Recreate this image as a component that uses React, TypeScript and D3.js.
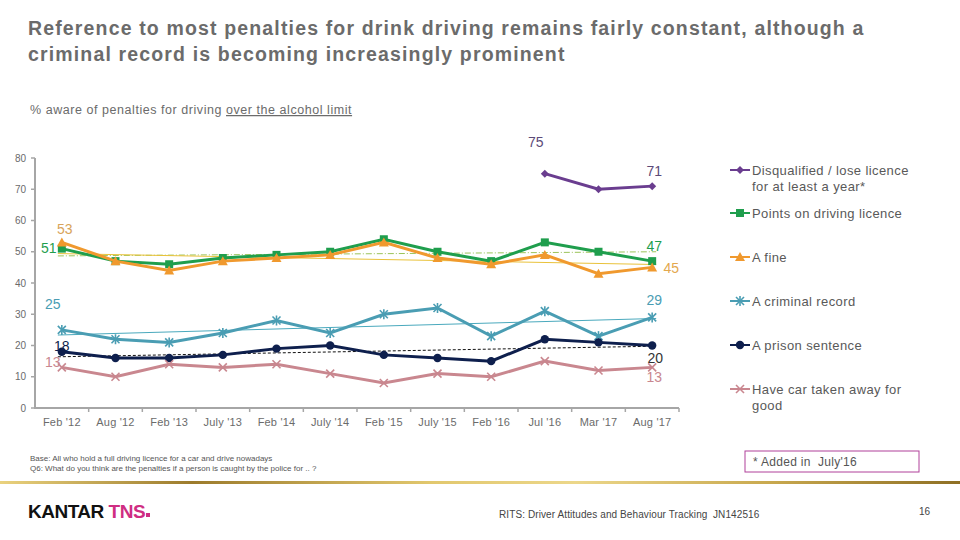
import React from "react";
import * as d3 from "d3";

const categories = ["Feb '12", "Aug '12", "Feb '13", "July '13", "Feb '14", "July '14", "Feb '15", "July '15", "Feb '16", "Jul '16", "Mar '17", "Aug '17"];
const disqualified = [null, null, null, null, null, null, null, null, null, 75, 70, 71];
const pointsLicence = [51, 47, 46, 48, 49, 50, 54, 50, 47, 53, 50, 47];
const aFine = [53, 47, 44, 47, 48, 49, 53, 48, 46, 49, 43, 45];
const criminalRecord = [25, 22, 21, 24, 28, 24, 30, 32, 23, 31, 23, 29];
const prisonSentence = [18, 16, 16, 17, 19, 20, 17, 16, 15, 22, 21, 20];
const carTaken = [13, 10, 14, 13, 14, 11, 8, 11, 10, 15, 12, 13];
const yTicks = [0, 10, 20, 30, 40, 50, 60, 70, 80];

type S = { key: string; name: string[]; values: (number | null)[]; color: string; marker: string; trend?: { color: string; dash: string } };
const series: S[] = [
  { key: "dis", name: ["Disqualified / lose licence", "for at least a year*"], values: disqualified, color: "#6a3d8f", marker: "diamond" },
  { key: "pts", name: ["Points on driving licence"], values: pointsLicence, color: "#1f9e4d", marker: "square", trend: { color: "#9cc45a", dash: "6,2,1,2" } },
  { key: "fine", name: ["A fine"], values: aFine, color: "#f0992e", marker: "triangle", trend: { color: "#e9c23a", dash: "" } },
  { key: "crim", name: ["A criminal record"], values: criminalRecord, color: "#4a9db3", marker: "asterisk", trend: { color: "#4aa9bd", dash: "" } },
  { key: "pri", name: ["A prison sentence"], values: prisonSentence, color: "#0e1f4d", marker: "circle", trend: { color: "#111", dash: "3,2" } },
  { key: "car", name: ["Have car taken away for", "good"], values: carTaken, color: "#c9878f", marker: "x" },
];

const legendY = [170, 213, 257, 301, 345, 389];

const labels = [
  { text: "75", s: 0, i: 9, dx: -9, dy: -27, color: "#5c4a78" },
  { text: "71", s: 0, i: 11, dx: 2, dy: -10, color: "#5c4a78" },
  { text: "53", s: 2, i: 0, dx: 3, dy: -8, color: "#d8a45a" },
  { text: "51", s: 1, i: 0, dx: -13, dy: 4, color: "#1f9e4d" },
  { text: "47", s: 1, i: 11, dx: 2, dy: -10, color: "#1f9e4d" },
  { text: "45", s: 2, i: 11, dx: 19, dy: 6, color: "#e3a84e" },
  { text: "25", s: 3, i: 0, dx: -9, dy: -21, color: "#4a9db3" },
  { text: "29", s: 3, i: 11, dx: 2, dy: -12, color: "#4a9db3" },
  { text: "18", s: 4, i: 0, dx: 0, dy: -1, color: "#0e1f4d" },
  { text: "13", s: 5, i: 0, dx: -9, dy: 0, color: "#c9878f" },
  { text: "20", s: 4, i: 11, dx: 3, dy: 17, color: "#333" },
  { text: "13", s: 5, i: 11, dx: 2, dy: 15, color: "#c9878f" },
];

function Marker({ type, x, y, color }: { type: string; x: number; y: number; color: string }) {
  switch (type) {
    case "diamond":
      return <path d={`M${x},${y - 4}L${x + 4},${y}L${x},${y + 4}L${x - 4},${y}Z`} fill={color} />;
    case "square":
      return <rect x={x - 4} y={y - 4} width={8} height={8} fill={color} />;
    case "triangle":
      return <path d={`M${x},${y - 5}L${x + 5},${y + 4}L${x - 5},${y + 4}Z`} fill={color} />;
    case "circle":
      return <circle cx={x} cy={y} r={4.2} fill={color} />;
    case "asterisk":
      return (
        <g stroke={color} strokeWidth={1.6}>
          <line x1={x - 4} y1={y - 4} x2={x + 4} y2={y + 4} />
          <line x1={x - 4} y1={y + 4} x2={x + 4} y2={y - 4} />
          <line x1={x} y1={y - 5} x2={x} y2={y + 5} />
        </g>
      );
    case "x":
      return (
        <g stroke={color} strokeWidth={1.6}>
          <line x1={x - 4} y1={y - 4} x2={x + 4} y2={y + 4} />
          <line x1={x - 4} y1={y + 4} x2={x + 4} y2={y - 4} />
        </g>
      );
  }
  return null;
}

export default function App() {
  const W = 960, H = 540;
  const x = d3.scaleBand<string>().domain(categories).range([35, 679]);
  const cx = (c: string) => (x(c) as number) + x.bandwidth() / 2;
  const y = d3.scaleLinear().domain([0, 80]).range([408, 158]);
  const line = d3.line<[number, number | null]>()
    .defined((d) => d[1] != null)
    .x((d) => d[0])
    .y((d) => y(d[1] as number));
  const font = "'Liberation Sans', Arial, sans-serif";
  const gray = "#6b6b6b";

  const trend = (vals: (number | null)[]) => {
    const pts = vals.map((v, i) => [i, v] as [number, number | null]).filter((p) => p[1] != null) as [number, number][];
    const mx = d3.mean(pts, (p) => p[0]) as number;
    const my = d3.mean(pts, (p) => p[1]) as number;
    const b = d3.sum(pts, (p) => (p[0] - mx) * (p[1] - my)) / d3.sum(pts, (p) => (p[0] - mx) ** 2);
    const a = my - b * mx;
    const i0 = pts[0][0], i1 = pts[pts.length - 1][0];
    return { x1: cx(categories[i0]) - 4, y1: y(a + b * (i0 - 0.08)), x2: cx(categories[i1]) + 4, y2: y(a + b * (i1 + 0.08)) };
  };

  return (
    <svg width={W} height={H} style={{ position: "absolute", left: 0, top: 0, background: "#fff" }} fontFamily={font}>
      <defs>
        <linearGradient id="gold" x1="0" x2="1" y1="0" y2="0">
          <stop offset="0" stopColor="#ead27e" />
          <stop offset="0.2" stopColor="#9c7b2c" />
          <stop offset="0.45" stopColor="#e2c86e" />
          <stop offset="0.6" stopColor="#ecd78a" />
          <stop offset="0.8" stopColor="#c9a94f" />
          <stop offset="1" stopColor="#8e6f24" />
        </linearGradient>
      </defs>
      <rect width={W} height={H} fill="#fff" />
      <text x={28} y={35} fontSize={19.5} fontWeight="bold" fill={gray} letterSpacing={1.15}>Reference to most penalties for drink driving remains fairly constant, although a</text>
      <text x={28} y={61} fontSize={19.5} fontWeight="bold" fill={gray} letterSpacing={1.15}>criminal record is becoming increasingly prominent</text>
      <text x={30} y={114} fontSize={12.5} fill={gray} letterSpacing={0.55}>
        % aware of penalties for driving <tspan textDecoration="underline">over the alcohol limit</tspan>
      </text>

      {/* axes */}
      <line x1={35} x2={35} y1={y(80)} y2={y(0)} stroke="#a6a6a6" strokeWidth={2} />
      <line x1={34} x2={679} y1={y(0)} y2={y(0)} stroke="#a6a6a6" strokeWidth={2} />
      {yTicks.map((t) => (
        <g key={t}>
          <line x1={31} x2={35} y1={y(t)} y2={y(t)} stroke="#a6a6a6" strokeWidth={1.5} />
          <text x={26} y={y(t) + 3.5} fontSize={10} fill={gray} textAnchor="end">{t}</text>
        </g>
      ))}
      {categories.map((c, i) => (
        <g key={c}>
          <line x1={(x(c) as number) + x.bandwidth()} x2={(x(c) as number) + x.bandwidth()} y1={y(0)} y2={y(0) + 4} stroke="#a6a6a6" strokeWidth={1.5} />
          <text x={cx(c)} y={426} fontSize={11} fill={gray} textAnchor="middle" letterSpacing={0.2}>{c}</text>
        </g>
      ))}

      {/* trend lines */}
      {series.filter((s) => s.trend).map((s) => {
        const t = trend(s.values);
        return <line key={"t" + s.key} {...t} stroke={s.trend!.color} strokeWidth={1} strokeDasharray={s.trend!.dash} />;
      })}

      {/* series */}
      {series.map((s) => {
        const pts = s.values.map((v, i) => [cx(categories[i]), v] as [number, number | null]);
        return (
          <g key={s.key}>
            <path d={line(pts) as string} fill="none" stroke={s.color} strokeWidth={3} />
            {pts.filter((p) => p[1] != null).map((p, i) => (
              <Marker key={i} type={s.marker} x={p[0]} y={y(p[1] as number)} color={s.color} />
            ))}
          </g>
        );
      })}

      {labels.map((l, k) => {
        const v = series[l.s].values[l.i] as number;
        return (
          <text key={k} x={cx(categories[l.i]) + l.dx} y={y(v) + l.dy} fontSize={14} fill={l.color} textAnchor="middle">{l.text}</text>
        );
      })}

      {/* legend */}
      {series.map((s, k) => (
        <g key={"lg" + s.key}>
          <line x1={730} x2={750} y1={legendY[k]} y2={legendY[k]} stroke={s.color} strokeWidth={2} />
          <Marker type={s.marker} x={740} y={legendY[k]} color={s.color} />
          {s.name.map((n, j) => (
            <text key={j} x={752} y={legendY[k] + 5 + j * 16} fontSize={13} fill="#595959" letterSpacing={0.4}>{n}</text>
          ))}
        </g>
      ))}

      {/* footer */}
      <text x={30} y={461} fontSize={8} fill="#555">Base: All who hold a full driving licence for a car and drive nowadays</text>
      <text x={30} y={471} fontSize={8} fill="#555">Q6: What do you think are the penalties if a person is caught by the police for .. ?</text>
      <rect x={745} y={451} width={174} height={21} fill="#fff" stroke="#b0409a" strokeWidth={1} />
      <text x={753} y={466} fontSize={12} fill="#555" letterSpacing={0.3} style={{ whiteSpace: "pre" }}>* Added in  July'16</text>
      <rect x={0} y={481} width={960} height={3} fill="url(#gold)" />
      <text x={28} y={518} fontSize={19} fontWeight="bold" fill="#111" letterSpacing={-0.5}>KANTAR <tspan fill="#cf2d82">TNS</tspan></text>
      <rect x={146} y={513} width={4} height={4} fill="#cf2d82" />
      <text x={499} y={518} fontSize={10} fill="#444" letterSpacing={0.1}>RITS: Driver Attitudes and Behaviour Tracking</text>
      <text x={713} y={518} fontSize={10} fill="#444" letterSpacing={0.1}>JN142516</text>
      <text x={919} y={515} fontSize={10} fill="#444">16</text>
    </svg>
  );
}
